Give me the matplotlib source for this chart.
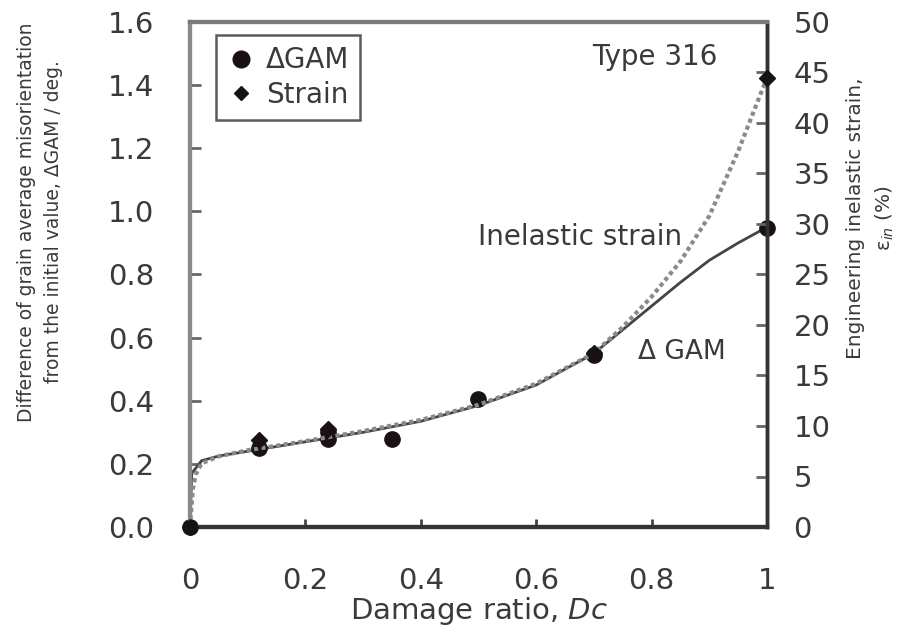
import matplotlib
matplotlib.use("Agg")
import matplotlib.pyplot as plt
from matplotlib.lines import Line2D

plt.rcParams['font.family'] = ['DejaVu Sans']
plt.rcParams['mathtext.fontset'] = 'dejavusans'

# measured points
gam_x = [0, 0.12, 0.24, 0.24, 0.35, 0.5, 0.7, 1.0]
gam_y = [0, 0.25, 0.28, 0.30, 0.28, 0.405, 0.545, 0.947]
strain_x = [0, 0.12, 0.24, 0.7, 1.0]
strain_y = [0, 8.6, 9.7, 17.2, 44.5]   # %

# fitted curves
gam_cx = [0, 0.003, 0.02, 0.05, 0.1, 0.2, 0.3, 0.4, 0.5, 0.6, 0.7, 0.75, 0.8, 0.85, 0.9, 0.95, 1.0]
gam_cy = [0, 0.17, 0.21, 0.225, 0.24, 0.27, 0.30, 0.335, 0.385, 0.45, 0.55, 0.625, 0.70, 0.775, 0.845, 0.90, 0.95]
str_cx = [0, 0.005, 0.01, 0.02, 0.05, 0.1, 0.2, 0.3, 0.4, 0.5, 0.6, 0.7, 0.75, 0.8, 0.85, 0.9, 0.95, 1.0]
str_cy = [0, 3.8, 5.2, 6.3, 7.0, 7.6, 8.5, 9.5, 10.6, 12.1, 14.2, 17.2, 19.8, 22.8, 26.3, 30.8, 37.2, 44.5]

xticks = [0, 0.2, 0.4, 0.6, 0.8, 1.0]
xticklabels = ['0', '0.2', '0.4', '0.6', '0.8', '1']
lticks = [0, 0.2, 0.4, 0.6, 0.8, 1.0, 1.2, 1.4, 1.6]
rticks = [0, 5, 10, 15, 20, 25, 30, 35, 40, 45, 50]

txt = '#3a3a3a'
fs = 21

fig = plt.figure(figsize=(9.11, 6.41), dpi=100)
ax = fig.add_axes([190/911, 1 - 527/641, 577/911, 505/641])
ax2 = ax.twinx()

ax.plot(gam_cx, gam_cy, color='#444444', lw=2, zorder=2)
ax2.plot(str_cx, str_cy, color='#8a8a8a', lw=3, ls=(0, (1, 0.8)), zorder=2)
ax.plot(gam_x, gam_y, 'o', color='#1a1212', ms=11, zorder=3, clip_on=False)
ax2.plot(strain_x, strain_y, 'D', color='#1a1212', ms=8, zorder=3, clip_on=False)

ax.set_xlim(0, 1)
ax.set_ylim(0, 1.6)
ax2.set_ylim(0, 50)

ax.set_xticks(xticks)
ax.set_xticklabels(xticklabels)
ax.set_yticks(lticks)
ax.set_yticklabels(['%.1f' % v for v in lticks])
ax2.set_yticks(rticks)

ax.tick_params(axis='x', direction='in', length=6, width=2, color='#444444',
               pad=29, labelsize=fs, labelcolor=txt)
ax.tick_params(axis='y', direction='in', length=8, width=2, color='#666666',
               pad=26, labelsize=fs, labelcolor=txt)
ax2.tick_params(axis='y', direction='in', length=8, width=2, color='#666666',
                pad=19, labelsize=fs, labelcolor=txt)

for a in (ax, ax2):
    a.spines['left'].set_color('#8a8a8a')
    a.spines['left'].set_linewidth(3)
    a.spines['top'].set_color('#7a7a7a')
    a.spines['top'].set_linewidth(3)
    a.spines['bottom'].set_color('#333333')
    a.spines['bottom'].set_linewidth(3)
    a.spines['right'].set_color('#333333')
    a.spines['right'].set_linewidth(2.5)

ax.set_xlabel('Damage ratio, $\\it{Dc}$', fontsize=fs, color=txt, labelpad=0)

fig.text(40/911, 1 - 222/641,
         'Difference of grain average misorientation\nfrom the initial value, \u0394GAM / deg.',
         rotation=90, ha='center', va='center', fontsize=13.5, color=txt,
         linespacing=1.5)
fig.text(871/911, 1 - 218/641,
         'Engineering inelastic strain,\n\u03b5$_{in}$ (%)',
         rotation=90, ha='center', va='center', fontsize=14.5, color=txt,
         linespacing=1.5)

ax.text(0.806, 1.49, 'Type 316', ha='center', va='center', fontsize=20, color=txt)
ax.text(0.676, 0.92, 'Inelastic strain', ha='center', va='center', fontsize=20, color=txt)
ax.text(0.853, 0.555, '\u0394 GAM', ha='center', va='center', fontsize=19, color=txt)

handles = [Line2D([], [], ls='none', marker='o', color='#1a1212', ms=12),
           Line2D([], [], ls='none', marker='D', color='#1a1212', ms=7)]
leg = ax2.legend(handles, ['\u0394GAM', 'Strain'], loc='upper left',
                 bbox_to_anchor=(0.045, 0.974), fontsize=20, frameon=True,
                 fancybox=False, handlelength=1.0, handletextpad=0.4,
                 borderpad=0.4, labelspacing=0.25, borderaxespad=0)
leg.get_frame().set_edgecolor('#333333')
leg.get_frame().set_linewidth(1.8)
for t in leg.get_texts():
    t.set_color(txt)

fig.savefig('out.png', dpi=100)
